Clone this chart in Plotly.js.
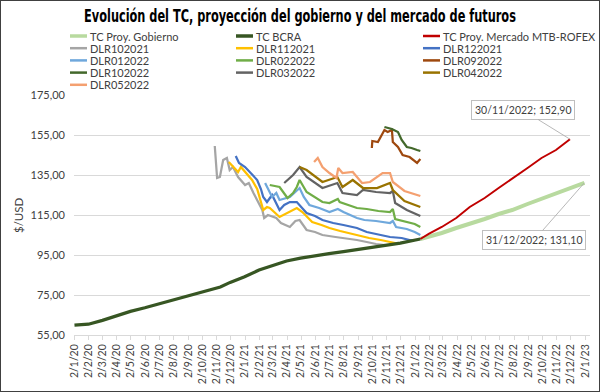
<!DOCTYPE html>
<html><head><meta charset="utf-8">
<script src="https://cdn.plot.ly/plotly-3.0.1.min.js"></script>
<style>
body{margin:0;background:#fff}
#wrap{position:relative;width:600px;height:392px}
#chart{width:600px;height:392px}
#frame{position:absolute;left:0;top:0;width:600px;height:392px;box-sizing:border-box;border:1px solid #404040;pointer-events:none}
</style>
</head><body><div id="wrap"><div id="chart"></div><div id="frame"></div></div>
<script>
// ---------- DATA ----------
const bcraDates = ['2020-01-02','2020-02-01','2020-03-02','2020-04-01','2020-05-01','2020-06-01','2020-07-01','2020-08-01','2020-09-01','2020-10-01','2020-11-01','2020-11-10','2020-12-01','2021-01-01','2021-02-01','2021-03-01','2021-04-01','2021-05-01','2021-06-01','2021-07-01','2021-08-01','2021-09-01','2021-10-01','2021-11-01','2021-12-01','2022-01-13'];
const bcraVals  = [59.9,60.4,62.3,64.5,66.8,68.6,70.5,72.4,74.2,76.2,78.3,79.0,81.3,84.1,87.5,89.8,92.0,93.4,94.7,95.7,96.7,97.7,98.7,99.7,100.9,103.0];

const gobDates = ['2022-01-13','2022-01-31','2022-02-28','2022-03-31','2022-04-29','2022-05-31','2022-06-30','2022-07-29','2022-08-31','2022-09-30','2022-10-31','2022-11-30','2022-12-31'];
const gobVals  = [103.0,104.0,106.0,108.5,110.5,113.0,115.5,117.5,120.5,123.0,125.5,128.5,131.1];

const mtbDates = ['2022-01-13','2022-01-31','2022-02-28','2022-03-31','2022-04-29','2022-05-31','2022-06-30','2022-07-29','2022-08-31','2022-09-30','2022-10-31','2022-11-30'];
const mtbVals  = [103.0,105.6,109.0,113.5,119.0,123.5,128.5,133.0,138.5,143.5,147.5,152.9];

const d102021Dates = ['2020-10-29','2020-11-03','2020-11-09','2020-11-16','2020-11-24','2020-11-30','2020-12-07','2020-12-18','2021-01-02','2021-01-10','2021-01-20','2021-02-08','2021-02-12','2021-02-20','2021-03-10','2021-03-20','2021-04-08','2021-04-20','2021-04-29','2021-05-14','2021-06-01','2021-06-17','2021-07-15','2021-08-01','2021-08-30','2021-09-20','2021-10-10','2021-10-29'];
const d102021Vals  = [149.5,133.5,134.0,142.5,143.5,137.5,139.0,134.0,130.0,131.0,126.0,117.5,113.5,115.0,113.5,111.0,109.0,112.0,112.5,107.5,106.5,105.0,104.0,103.5,102.5,101.5,100.5,100.0];

const d112021Dates = ['2020-11-28','2020-12-08','2020-12-18','2020-12-24','2021-01-05','2021-01-17','2021-01-28','2021-02-10','2021-02-18','2021-02-24','2021-03-17','2021-04-03','2021-04-23','2021-05-05','2021-05-26','2021-06-15','2021-07-02','2021-07-25','2021-08-30','2021-09-25','2021-10-20','2021-11-09','2021-11-30'];
const d112021Vals  = [141.5,139.0,136.5,139.0,136.0,132.5,128.0,117.5,119.0,118.5,114.0,116.0,118.5,116.5,111.5,110.0,108.5,107.0,105.0,103.5,102.5,101.5,100.5];

const d122021Dates = ['2020-12-13','2020-12-20','2021-01-02','2021-01-15','2021-01-28','2021-02-05','2021-02-10','2021-02-18','2021-03-01','2021-03-17','2021-03-27','2021-04-08','2021-04-23','2021-05-14','2021-06-01','2021-06-17','2021-07-10','2021-08-01','2021-08-30','2021-09-20','2021-10-10','2021-11-09','2021-12-04','2021-12-21','2021-12-30'];
const d122021Vals  = [144.5,141.0,139.0,136.0,132.5,128.0,124.0,121.5,125.0,117.5,120.0,121.5,121.5,116.0,114.5,112.5,111.0,110.0,108.5,106.5,105.5,104.0,103.5,102.5,102.5];

const d012022Dates = ['2021-02-14','2021-02-20','2021-03-01','2021-03-10','2021-03-17','2021-04-08','2021-04-29','2021-05-08','2021-05-20','2021-06-10','2021-07-02','2021-07-20','2021-08-01','2021-08-30','2021-09-15','2021-10-10','2021-11-09','2021-11-15','2021-11-22','2021-12-15','2022-01-01','2022-01-13'];
const d012022Vals  = [131.0,128.5,124.0,126.0,122.5,124.0,128.5,124.0,120.0,118.5,116.5,118.0,116.5,113.5,112.5,112.0,111.0,112.0,109.0,108.0,106.5,105.0];

const d022022Dates = ['2021-02-24','2021-03-17','2021-04-03','2021-04-15','2021-04-23','2021-04-29','2021-05-14','2021-06-01','2021-06-17','2021-07-02','2021-07-20','2021-07-24','2021-08-30','2021-09-20','2021-10-15','2021-11-09','2021-11-15','2021-11-20','2021-12-15','2022-01-01','2022-01-13'];
const d022022Vals  = [130.0,129.0,123.5,126.0,129.0,132.5,126.5,124.0,121.5,121.0,123.0,121.5,118.5,118.0,117.0,116.5,118.0,113.0,111.5,110.5,109.0];

const d092022Dates = ['2021-10-01','2021-10-02','2021-10-14','2021-10-22','2021-10-28','2021-11-04','2021-11-13','2021-11-15','2021-11-26','2021-12-06','2021-12-21','2022-01-06','2022-01-13'];
const d092022Vals  = [148.5,152.0,151.5,155.0,157.5,156.5,157.5,151.5,149.0,145.0,144.0,141.0,143.0];

const d102022Dates = ['2021-10-28','2021-11-13','2021-11-26','2021-12-04','2021-12-15','2021-12-25','2022-01-06','2022-01-13'];
const d102022Vals  = [159.0,158.0,156.5,152.5,149.0,148.5,147.5,147.0];

const d032022Dates = ['2021-03-27','2021-04-15','2021-04-29','2021-05-14','2021-06-17','2021-07-19','2021-07-30','2021-08-30','2021-09-12','2021-10-10','2021-11-09','2021-11-15','2021-11-20','2021-12-15','2022-01-13'];
const d032022Vals  = [131.0,135.0,139.0,134.0,128.5,131.0,126.0,125.0,127.5,126.5,126.0,127.0,121.0,117.5,114.5];

const d042022Dates = ['2021-04-29','2021-05-14','2021-06-17','2021-07-19','2021-07-30','2021-08-21','2021-09-12','2021-10-12','2021-11-09','2021-11-15','2021-12-10','2022-01-13'];
const d042022Vals  = [139.0,137.5,131.5,134.0,129.0,132.5,128.5,128.5,131.0,127.5,122.0,119.0];

const d052022Dates = ['2021-05-30','2021-06-07','2021-06-17','2021-07-02','2021-07-17','2021-07-21','2021-07-30','2021-08-21','2021-09-10','2021-09-27','2021-10-24','2021-11-09','2021-11-15','2021-12-10','2022-01-13'];
const d052022Vals  = [141.5,143.5,139.0,136.0,133.5,138.5,136.0,136.5,131.0,131.5,136.0,136.0,131.5,127.0,124.5];

const yTickVals = [55,75,95,115,135,155,175];

// ---------- SERIES (legend order) ----------
const series = [
  {name:'TC Proy. Gobierno', x:gobDates, y:gobVals, color:'#B8DA9F', w:4},
  {name:'TC BCRA', x:bcraDates, y:bcraVals, color:'#375623', w:3.25},
  {name:'TC Proy. Mercado MTB-ROFEX', x:mtbDates, y:mtbVals, color:'#C00000', w:2},
  {name:'DLR102021', x:d102021Dates, y:d102021Vals, color:'#A5A5A5', w:2.25},
  {name:'DLR112021', x:d112021Dates, y:d112021Vals, color:'#FFC000', w:2.25},
  {name:'DLR122021', x:d122021Dates, y:d122021Vals, color:'#4472C4', w:2.25},
  {name:'DLR012022', x:d012022Dates, y:d012022Vals, color:'#6FA8DC', w:2.25},
  {name:'DLR022022', x:d022022Dates, y:d022022Vals, color:'#70AD47', w:2.25},
  {name:'DLR092022', x:d092022Dates, y:d092022Vals, color:'#9E480E', w:2.25},
  {name:'DLR102022', x:d102022Dates, y:d102022Vals, color:'#43682B', w:2.25},
  {name:'DLR032022', x:d032022Dates, y:d032022Vals, color:'#636363', w:2.25},
  {name:'DLR042022', x:d042022Dates, y:d042022Vals, color:'#997300', w:2.25},
  {name:'DLR052022', x:d052022Dates, y:d052022Vals, color:'#F4A070', w:2.25}
];
const drawOrder = [0,2,3,4,5,6,7,10,11,12,8,9,1];
const traces = drawOrder.map(i => {
  const s = series[i];
  return {type:'scatter', mode:'lines', name:s.name, x:s.x, y:s.y,
    line:{color:s.color, width:s.w, shape:'linear'}, hoverinfo:'skip', showlegend:false};
});

// ---------- LAYOUT ----------
const W=600, H=392, L=74, R=10, T=95, B=57;
const pw = W-L-R, ph = H-T-B;
const px2x = p => (p-L)/pw;
const py2y = p => 1-(p-T)/ph;
const txtFont = "Lato, 'Open Sans', sans-serif";

const shapes = [], annotations = [];
const colX = [70, 236, 423];
series.forEach((s,i) => {
  const row = Math.floor(i/3), col = i%3;
  const yy = 36 + row*12.2;
  shapes.push({type:'line', xref:'paper', yref:'paper', x0:px2x(colX[col]), x1:px2x(colX[col]+17), y0:py2y(yy), y1:py2y(yy),
    line:{color:s.color, width: s.w>=3 ? 3.5 : 2.5}});
  annotations.push({xref:'paper', yref:'paper', x:px2x(colX[col]+18), y:py2y(yy), xanchor:'left', yanchor:'middle',
    text:s.name, showarrow:false, font:{family:txtFont, size:11, color:'#404040'}});
});

function fmt(d, v){ const p=d.split('-'); return p[2]+'/'+p[1]+'/'+p[0]+'; '+v.toFixed(2).replace('.',','); }
const mI = mtbDates.length-1, gI = gobDates.length-1;
annotations.push({x:mtbDates[mI], y:mtbVals[mI], xref:'x', yref:'y', text:fmt(mtbDates[mI], mtbVals[mI]),
  showarrow:true, arrowhead:0, arrowwidth:0.8, arrowcolor:'#A6A6A6', ax:-47, ay:-29,
  bordercolor:'#BFBFBF', borderwidth:1, borderpad:3, bgcolor:'#fff', font:{family:txtFont, size:10.5, color:'#404040'}});
annotations.push({x:gobDates[gI], y:gobVals[gI], xref:'x', yref:'y', text:fmt(gobDates[gI], gobVals[gI]),
  showarrow:true, arrowhead:0, arrowwidth:0.8, arrowcolor:'#A6A6A6', ax:-50, ay:57,
  bordercolor:'#BFBFBF', borderwidth:1, borderpad:3, bgcolor:'#fff', font:{family:txtFont, size:10.5, color:'#404040'}});
annotations.push({xref:'paper', yref:'paper', x:px2x(18), y:py2y(215), text:'$/USD', textangle:-90, showarrow:false,
  xanchor:'center', yanchor:'middle', font:{family:txtFont, size:11.5, color:'#404040'}});

const layout = {
  width:W, height:H, margin:{l:L, r:R, t:T, b:B},
  paper_bgcolor:'#fff', plot_bgcolor:'#fff',
  separators:',.',
  showlegend:false,
  title:{text:'<b>Evolución del TC, proyección del gobierno y del mercado de futuros</b>', x:0.5, xref:'container', xanchor:'center',
    y:1-16/H, yref:'container', yanchor:'middle',
    font:{family:"'DejaVu Sans Condensed', 'Liberation Sans', sans-serif", size:17, color:'#000'}},
  xaxis:{type:'date', range:['2020-01-01','2023-01-12'], tick0:'2020-01-02', dtick:'M1', tickformat:'%-d/%-m/%y',
    tickangle:-90, ticks:'outside', ticklen:4, tickcolor:'#D9D9D9', showline:true, linecolor:'#D9D9D9', linewidth:1,
    showgrid:false, zeroline:false, automargin:false, fixedrange:true,
    tickfont:{family:txtFont, size:10.5, color:'#404040'}},
  yaxis:{range:[55,175], tickvals:yTickVals, tickformat:'.2f', showgrid:true, gridcolor:'#D9D9D9', gridwidth:1,
    zeroline:false, showline:false, ticks:'', ticklabelstandoff:8, automargin:false, fixedrange:true,
    tickfont:{family:txtFont, size:11, color:'#404040'}},
  shapes:shapes, annotations:annotations
};
Plotly.newPlot('chart', traces, layout, {staticPlot:true, displayModeBar:false}).then(() => {
  // condense the title horizontally to match the narrow bold face of the original
  const t = document.querySelector('.gtitle');
  if (t) {
    const bb = t.getBBox();
    const target = 432;
    const sx = Math.min(1, target / bb.width);
    const cx = 300;
    t.setAttribute('transform', `translate(${cx},0) scale(${sx},1) translate(${-cx},0)`);
  }
});
</script></body></html>
